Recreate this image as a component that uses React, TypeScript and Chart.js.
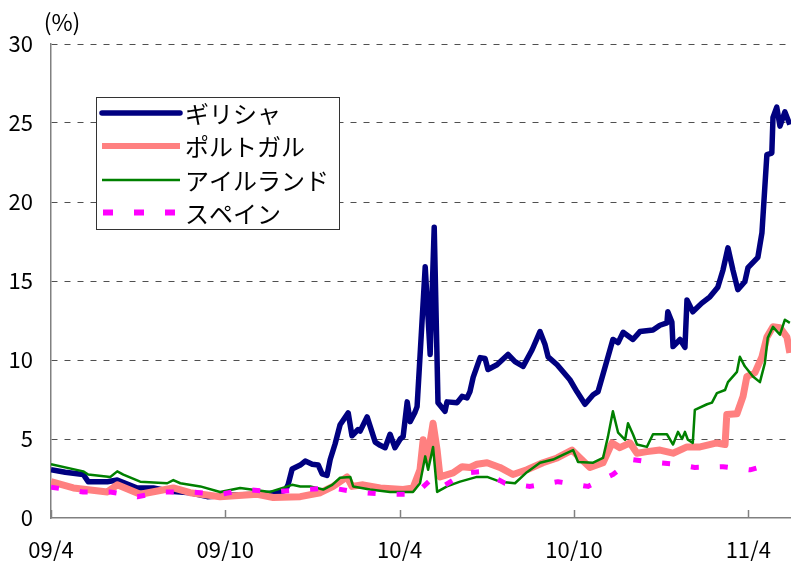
import React, { useEffect, useRef } from "react";
import { Chart, registerables } from "chart.js";

Chart.register(...registerables);

// x values are months elapsed since April 2009 (0 = 09/4)
const xTickValues = [0, 6, 12, 18, 24];
const xTickLabels = ["09/4", "09/10", "10/4", "10/10", "11/4"];
const yTickValues = [0, 5, 10, 15, 20, 25, 30];

const seriesNames = ["ギリシャ", "ポルトガル", "アイルランド", "スペイン"];

const greeceMonths = [
  0, 0.49, 1.11, 1.28, 1.94, 2.28, 2.56, 2.97, 3.52, 4.1, 4.79, 5.38, 6.27, 7.2, 7.78, 8.06, 8.16, 8.3,
  8.58, 8.75, 8.99, 9.2, 9.33, 9.5, 9.61, 9.78, 9.95, 10.23, 10.36, 10.57, 10.64, 10.88, 11.16, 11.33,
  11.5, 11.67, 11.84, 12.02, 12.12, 12.26, 12.36, 12.53, 12.6, 12.7, 12.88, 13.05, 13.19, 13.32, 13.56,
  13.63, 13.98, 14.15, 14.32, 14.42, 14.53, 14.77, 14.94, 15.04, 15.35, 15.73, 15.97, 16.25, 16.56,
  16.83, 17.0, 17.11, 17.42, 17.86, 18.1, 18.38, 18.66, 18.83, 19.14, 19.34, 19.52, 19.69, 20.03,
  20.27, 20.72, 20.96, 21.2, 21.23, 21.37, 21.41, 21.65, 21.82, 21.89, 22.09, 22.4, 22.68, 22.95,
  23.13, 23.3, 23.47, 23.64, 23.88, 23.99, 24.33, 24.47, 24.64, 24.81, 24.85, 24.98, 25.09, 25.26, 25.43,
];
const greeceValues = [
  3.05, 2.9, 2.75, 2.3, 2.3, 2.4, 2.2, 1.9, 1.9, 1.7, 1.6, 1.35, 1.45, 1.5, 1.6, 1.75, 2.1, 3.1,
  3.35, 3.6, 3.4, 3.35, 2.8, 2.7, 3.7, 4.7, 5.9, 6.65, 5.2, 5.6, 5.5, 6.4, 4.8, 4.6,
  4.45, 5.3, 4.45, 5.0, 5.15, 7.35, 6.1, 6.7, 7.05, 10.2, 15.9, 10.35, 18.4, 7.3, 6.75,
  7.35, 7.3, 7.7, 7.6, 8.0, 8.9, 10.15, 10.1, 9.4, 9.7, 10.35, 9.9, 9.6, 10.65,
  11.8, 11.0, 10.2, 9.7, 8.75, 8.0, 7.2, 7.8, 8.0, 10.0, 11.3, 11.1, 11.75, 11.3,
  11.8, 11.9, 12.2, 12.35, 13.05, 12.4, 10.85, 11.3, 10.8, 13.8, 13.05, 13.6, 14.0, 14.6,
  15.7, 17.1, 15.7, 14.45, 14.95, 15.85, 16.5, 18.05, 23.0, 23.1, 25.35, 26.0, 24.8, 25.7, 24.9,
];

const portugalMonths = [
  0, 0.77, 1.94, 2.28, 3.07, 4.21, 4.79, 5.82, 7.1, 7.65, 8.58, 9.27, 9.71, 10.19, 10.36, 10.74, 11.33,
  12.12, 12.46, 12.7, 12.81, 12.95, 13.15, 13.29, 13.39, 13.84, 14.15, 14.42, 14.66, 15.01, 15.45,
  15.9, 16.38, 16.93, 17.42, 17.93, 18.21, 18.55, 19.0, 19.31, 19.58, 19.93, 20.17, 20.51, 20.96,
  21.41, 21.89, 22.34, 22.92, 23.2, 23.26, 23.61, 23.82, 23.95, 24.23, 24.47, 24.64, 24.85, 25.09, 25.33, 25.43,
];
const portugalValues = [
  2.3, 1.9, 1.65, 2.1, 1.5, 1.9, 1.6, 1.35, 1.5, 1.3, 1.35, 1.6, 2.0, 2.6, 2.0, 2.1, 1.9,
  1.8, 1.9, 3.05, 4.95, 3.7, 6.0, 4.3, 2.6, 2.85, 3.25, 3.2, 3.4, 3.5, 3.2,
  2.75, 3.05, 3.5, 3.8, 4.3, 3.8, 3.2, 3.5, 4.75, 4.45, 4.75, 4.1, 4.2, 4.3,
  4.1, 4.5, 4.5, 4.75, 4.65, 6.55, 6.6, 7.7, 8.95, 9.2, 10.2, 11.45, 12.1, 12.05, 11.45, 10.45,
];

const irelandMonths = [
  0, 1.11, 1.28, 2.04, 2.28, 2.49, 3.07, 4.0, 4.21, 4.45, 5.14, 5.82, 6.51, 7.54, 8.3, 8.58, 8.92,
  9.37, 9.68, 9.95, 10.3, 10.4, 10.98, 11.67, 12.46, 12.7, 12.88, 12.98, 13.15, 13.29, 13.63, 14.08,
  14.66, 15.01, 15.45, 15.97, 16.38, 16.83, 17.28, 17.62, 17.97, 18.14, 18.66, 19.0, 19.17, 19.34,
  19.52, 19.76, 19.86, 20.03, 20.17, 20.51, 20.72, 21.2, 21.41, 21.58, 21.72, 21.82, 21.92, 22.09,
  22.16, 22.58, 22.75, 22.92, 23.2, 23.3, 23.61, 23.71, 23.88, 24.16, 24.4, 24.57, 24.67, 24.85,
  25.09, 25.26, 25.43,
];
const irelandValues = [
  3.4, 2.95, 2.75, 2.6, 2.95, 2.75, 2.3, 2.2, 2.4, 2.2, 2.0, 1.65, 1.9, 1.65, 2.1, 2.0, 2.0,
  1.8, 2.1, 2.55, 2.6, 2.0, 1.8, 1.65, 1.65, 2.2, 3.9, 3.05, 4.5, 1.65, 2.0, 2.3,
  2.6, 2.6, 2.3, 2.2, 2.9, 3.5, 3.7, 4.0, 4.3, 3.55, 3.5, 3.8, 5.15, 6.75,
  5.4, 4.95, 6.0, 5.3, 4.65, 4.5, 5.3, 5.3, 4.65, 5.45, 5.0, 5.45, 4.95, 4.75,
  6.85, 7.2, 7.3, 7.9, 8.1, 8.6, 9.25, 10.2, 9.6, 8.95, 8.6, 9.8, 11.4, 12.1,
  11.6, 12.55, 12.35,
];

const spainMonths = [
  0, 1.11, 2.04, 2.97, 3.86, 4.79, 5.82, 6.75, 7.65, 8.65, 9.68, 10.47, 11.5, 12.53, 13.12, 13.49,
  14.25, 14.84, 15.63, 16.49, 17.45, 18.48, 19.34, 20.0, 20.62, 21.48, 22.16, 23.13, 24.06, 24.95,
];
const spainValues = [
  1.95, 1.65, 1.65, 1.35, 1.65, 1.65, 1.5, 1.8, 1.65, 1.8, 1.9, 1.65, 1.5, 1.5, 2.5, 2.0,
  2.85, 2.95, 2.2, 2.0, 2.3, 2.0, 2.75, 3.7, 3.55, 3.4, 3.2, 3.25, 3.05, 3.5,
];

const FONT = '"Noto Sans CJK JP", "Noto Sans", sans-serif';
const AXIS_COLOR = "#808080";
const GRID_COLOR = "#505050";

const pairs = (xs: number[], ys: number[]) => xs.map((x, i) => ({ x, y: ys[i] }));

const styles = [
  { color: "#000080", width: 5.5, dash: [] as number[] },
  { color: "#FF8080", width: 7, dash: [] as number[] },
  { color: "#008000", width: 2.5, dash: [] as number[] },
  { color: "#FF00FF", width: 5, dash: [8, 21] },
];

const overlayPlugin = {
  id: "overlay",
  afterDraw(chart: any) {
    const { ctx, chartArea, scales } = chart;
    const xs = scales.x;
    ctx.save();
    // inward tick marks on the category axis
    ctx.strokeStyle = AXIS_COLOR;
    ctx.lineWidth = 1.5;
    xTickValues.forEach((v) => {
      const px = Math.round(xs.getPixelForValue(v)) + 0.5;
      ctx.beginPath();
      ctx.moveTo(px, chartArea.bottom);
      ctx.lineTo(px, chartArea.bottom - 8);
      ctx.stroke();
    });
    // unit label
    ctx.fillStyle = "#000";
    ctx.font = `23px ${FONT}`;
    ctx.textAlign = "center";
    ctx.textBaseline = "middle";
    ctx.fillText("(%)", 62, 22);
    // legend box
    const bx = 96, by = 97, bw = 243, bh = 132;
    ctx.fillStyle = "#fff";
    ctx.fillRect(bx, by, bw, bh);
    ctx.strokeStyle = "#333";
    ctx.lineWidth = 1;
    ctx.strokeRect(bx + 0.5, by + 0.5, bw, bh);
    const rows = [113, 146, 180, 212.5];
    ctx.font = `24px ${FONT}`;
    ctx.textAlign = "left";
    seriesNames.forEach((name, i) => {
      const st = styles[i];
      ctx.save();
      ctx.strokeStyle = st.color;
      ctx.lineWidth = i === 1 ? 6 : i === 3 ? 6 : st.width;
      ctx.lineCap = i === 0 ? "round" : "butt";
      ctx.setLineDash(i === 3 ? [10, 21] : []);
      ctx.beginPath();
      ctx.moveTo(i === 3 ? 103 : 102, rows[i]);
      ctx.lineTo(180, rows[i]);
      ctx.stroke();
      ctx.restore();
      ctx.fillStyle = "#000";
      ctx.fillText(name, 185, rows[i] + 1);
    });
    ctx.restore();
  },
};

export default function App() {
  const ref = useRef<HTMLCanvasElement | null>(null);
  useEffect(() => {
    document.body.style.margin = "0";
    const canvas = ref.current;
    if (!canvas) return;
    const allSeries = [
      pairs(greeceMonths, greeceValues),
      pairs(portugalMonths, portugalValues),
      pairs(irelandMonths, irelandValues),
      pairs(spainMonths, spainValues),
    ];
    const datasets = seriesNames.map((name, i) => ({
      label: name,
      data: allSeries[i],
      borderColor: styles[i].color,
      backgroundColor: styles[i].color,
      borderWidth: styles[i].width,
      borderDash: styles[i].dash,
      borderJoinStyle: "round" as const,
      pointRadius: 0,
      tension: 0,
      fill: false,
      order: 3 - i,
    }));
    const chart = new Chart(canvas, {
      type: "line",
      data: { datasets },
      plugins: [overlayPlugin],
      options: {
        animation: false,
        responsive: false,
        devicePixelRatio: 1,
        layout: { padding: { top: 44, left: 0, right: 0, bottom: 0 } },
        plugins: { legend: { display: false }, tooltip: { enabled: false } },
        scales: {
          x: {
            type: "linear",
            min: 0,
            max: 25.47,
            afterBuildTicks: (scale: any) => {
              scale.ticks = xTickValues.map((v) => ({ value: v }));
            },
            afterFit: (scale: any) => {
              scale.height = 43;
            },
            ticks: {
              autoSkip: false,
              maxRotation: 0,
              padding: 18,
              color: "#000",
              font: { family: FONT, size: 22 },
              callback: (v: any) => {
                const idx = xTickValues.indexOf(Number(v));
                return idx >= 0 ? xTickLabels[idx] : "";
              },
            },
            grid: { display: false, drawTicks: false },
            border: { display: true, color: AXIS_COLOR, width: 1.5 },
          },
          y: {
            min: 0,
            max: 30,
            afterBuildTicks: (scale: any) => {
              scale.ticks = yTickValues.map((v) => ({ value: v }));
            },
            afterFit: (scale: any) => {
              scale.width = 51;
            },
            ticks: {
              padding: 18,
              color: "#000",
              font: { family: FONT, size: 22 },
            },
            grid: {
              drawTicks: false,
              lineWidth: 1,
              color: (c: any) => (c.tick && c.tick.value === 0 ? "rgba(0,0,0,0)" : GRID_COLOR),
            },
            border: { display: true, color: AXIS_COLOR, width: 1.5, dash: [6, 7] },
          },
        },
      },
    });
    return () => chart.destroy();
  }, []);
  return <canvas ref={ref} width={791} height={561} style={{ display: "block" }} />;
}
